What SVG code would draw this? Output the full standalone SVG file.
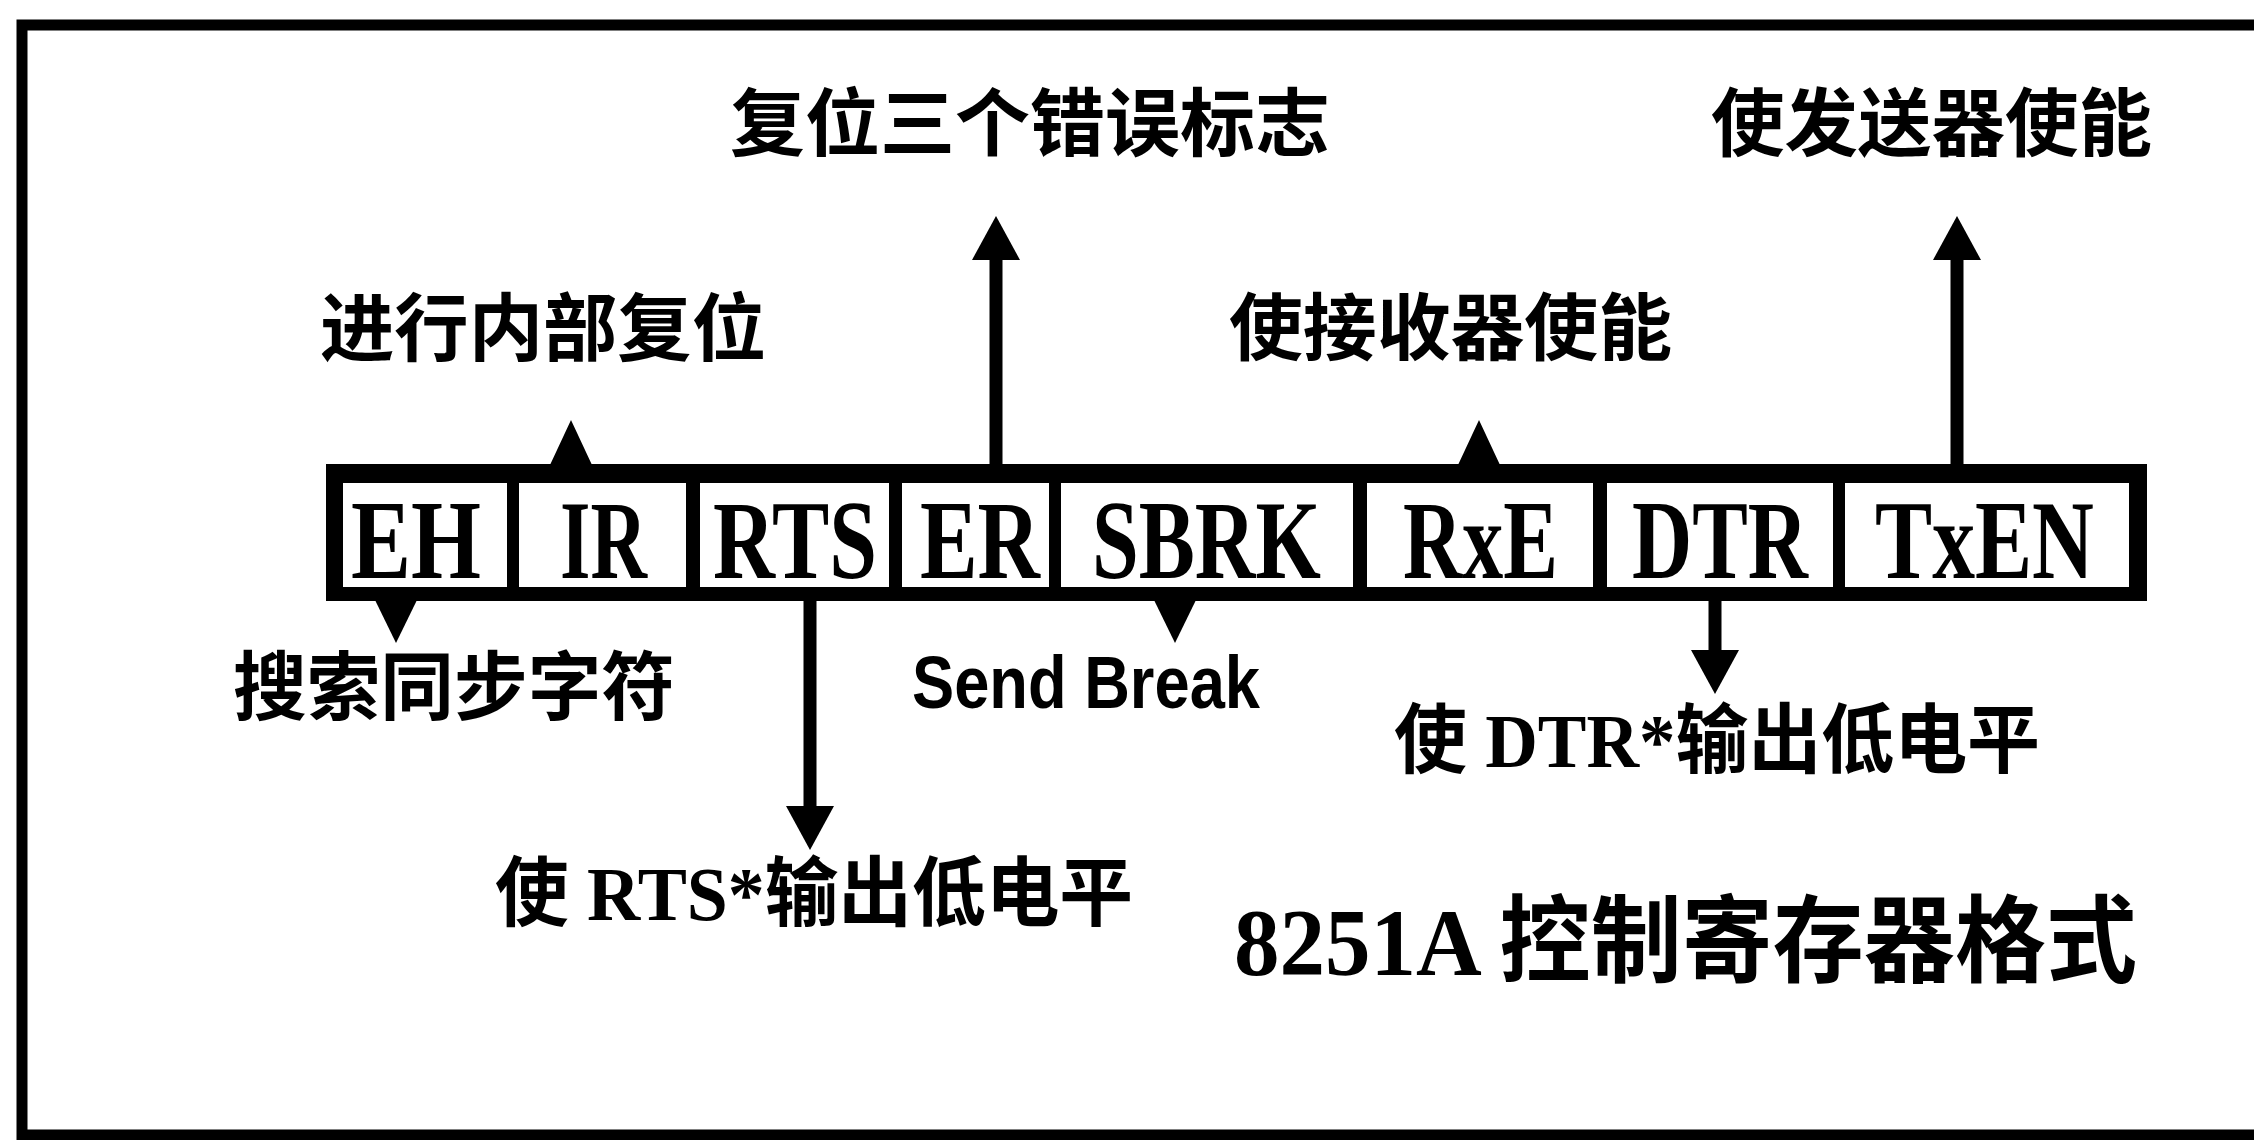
<svg xmlns="http://www.w3.org/2000/svg" width="2254" height="1140" viewBox="0 0 2254 1140">
<style>
.cjk{font-family:"Noto Sans CJK SC","Liberation Sans",sans-serif;font-weight:bold;fill:#000}
.mix{font-family:"Liberation Serif","Noto Sans CJK SC",serif;font-weight:bold;fill:#000}
.reg{font-family:"Liberation Serif",serif;font-weight:bold;font-size:113px;fill:#000}
.sans{font-family:"Liberation Sans",sans-serif;font-weight:bold;fill:#000}
.box{fill:#fff;stroke:none}
.wire{stroke:#000;stroke-width:13;fill:none}
.tri{fill:#000}
</style>
<defs>
<marker id="arr" markerUnits="userSpaceOnUse" viewBox="0 -24 44 48" markerWidth="44" markerHeight="48" refX="0" refY="0" orient="auto">
<path d="M0,-24 L44,0 L0,24 z" fill="#000"/>
</marker>
</defs>
<rect x="0" y="0" width="2254" height="1140" fill="#fff"/>
<path d="M2260,25 H22 V1135 H2260" fill="none" stroke="#000" stroke-width="11"/>

<g id="register">
<rect x="326" y="464" width="1821" height="137" fill="#000"/>
</g>
<g id="EH"><rect class="box" x="343" y="483" width="164" height="104"/><text class="reg" x="351" y="578" textLength="130" lengthAdjust="spacingAndGlyphs">EH</text></g>
<g id="IR"><rect class="box" x="519" y="483" width="167" height="104"/><text class="reg" x="560" y="578" textLength="87" lengthAdjust="spacingAndGlyphs">IR</text></g>
<g id="RTS"><rect class="box" x="700" y="483" width="189" height="104"/><text class="reg" x="713" y="578" textLength="164" lengthAdjust="spacingAndGlyphs">RTS</text></g>
<g id="ER"><rect class="box" x="902" y="483" width="147" height="104"/><text class="reg" x="920" y="578" textLength="120" lengthAdjust="spacingAndGlyphs">ER</text></g>
<g id="SBRK"><rect class="box" x="1061" y="483" width="292" height="104"/><text class="reg" x="1092" y="578" textLength="229" lengthAdjust="spacingAndGlyphs">SBRK</text></g>
<g id="RxE"><rect class="box" x="1367" y="483" width="226" height="104"/><text class="reg" x="1403" y="578" textLength="155" lengthAdjust="spacingAndGlyphs">RxE</text></g>
<g id="DTR"><rect class="box" x="1607" y="483" width="226" height="104"/><text class="reg" x="1632" y="578" textLength="176" lengthAdjust="spacingAndGlyphs">DTR</text></g>
<g id="TxEN"><rect class="box" x="1845" y="483" width="284" height="104"/><text class="reg" x="1875" y="578" textLength="219" lengthAdjust="spacingAndGlyphs">TxEN</text></g>

<g id="connectors">
<polygon class="tri" points="550,465 592,465 571,420"/>
<polygon class="tri" points="1458,465 1500,465 1479,420"/>
<polygon class="tri" points="375,600 417,600 396,643"/>
<polygon class="tri" points="1154,600 1196,600 1175,643"/>
<line class="wire" x1="996" y1="466" x2="996" y2="260" marker-end="url(#arr)"/>
<line class="wire" x1="1957" y1="466" x2="1957" y2="260" marker-end="url(#arr)"/>
<line class="wire" x1="810" y1="599" x2="810" y2="806" marker-end="url(#arr)"/>
<line class="wire" x1="1715" y1="599" x2="1715" y2="650" marker-end="url(#arr)"/>
</g>

<g id="label-er"><text class="cjk" x="730" y="150" font-size="74" textLength="600" lengthAdjust="spacingAndGlyphs">复位三个错误标志</text></g>
<g id="label-txen"><text class="cjk" x="1711" y="150" font-size="74" textLength="441" lengthAdjust="spacingAndGlyphs">使发送器使能</text></g>
<g id="label-ir"><text class="cjk" x="320" y="355" font-size="74" textLength="446" lengthAdjust="spacingAndGlyphs">进行内部复位</text></g>
<g id="label-rxe"><text class="cjk" x="1229" y="354" font-size="73" textLength="443" lengthAdjust="spacingAndGlyphs">使接收器使能</text></g>
<g id="label-eh"><text class="cjk" x="233" y="714" font-size="75" textLength="442" lengthAdjust="spacingAndGlyphs">搜索同步字符</text></g>
<g id="label-sbrk"><text class="sans" x="912" y="708" font-size="74" textLength="348" lengthAdjust="spacingAndGlyphs">Send Break</text></g>
<g id="label-rts"><text class="mix" x="495" y="920" font-size="76" textLength="638" lengthAdjust="spacingAndGlyphs">使 RTS*输出低电平</text></g>
<g id="label-dtr"><text class="mix" x="1394" y="767" font-size="76" textLength="646" lengthAdjust="spacingAndGlyphs">使 DTR*输出低电平</text></g>
<g id="title"><text class="mix" x="1234" y="975" font-size="95" textLength="903" lengthAdjust="spacingAndGlyphs">8251A 控制寄存器格式</text></g>
</svg>
